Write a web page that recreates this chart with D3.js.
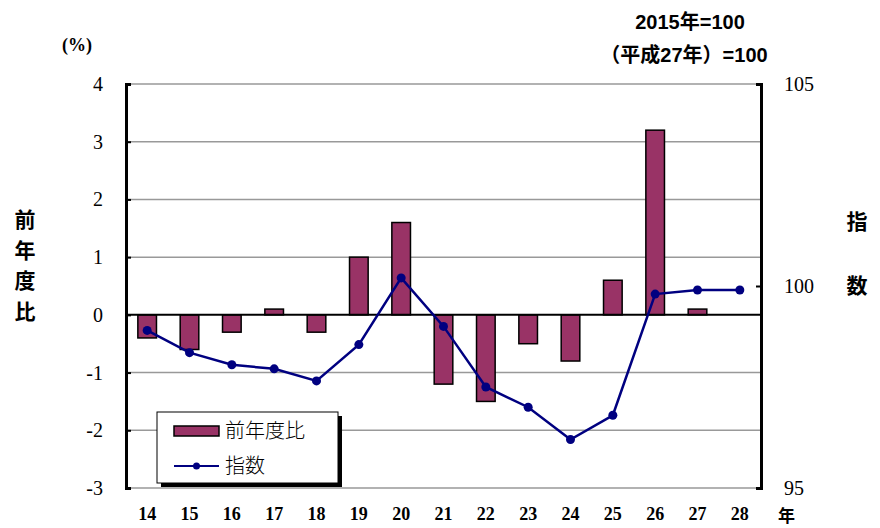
<!DOCTYPE html>
<html>
<head>
<meta charset="utf-8">
<script src="https://cdn.jsdelivr.net/npm/d3@7"></script>
<style>
  body { margin: 0; background: #fff; }
  svg { display: block; }
</style>
</head>
<body>
<div id="chart"></div>
<script>
const years = ["14", "15", "16", "17", "18", "19", "20", "21", "22", "23", "24", "25", "26", "27", "28"];
const changePct = [-0.4, -0.6, -0.3, 0.1, -0.3, 1.0, 1.6, -1.2, -1.5, -0.5, -0.8, 0.6, 3.2, 0.1, 0];
const indexVals = [98.9, 98.35, 98.05, 97.95, 97.65, 98.55, 100.2, 99.0, 97.5, 97.0, 96.2, 96.8, 99.8, 99.9, 99.9];
const leftTicks = [-3, -2, -1, 0, 1, 2, 3, 4];
const rightTicks = [95, 100, 105];

const width = 880, height = 528;
const margin = { top: 84, right: 119, bottom: 40, left: 126 };
const serif = "'Liberation Serif', 'Noto Sans CJK JP', serif";
const cjk = "'Noto Sans CJK JP', sans-serif";
const sans = "'Liberation Sans', 'Noto Sans CJK JP', sans-serif";

const svg = d3.select("#chart").append("svg")
  .attr("width", width)
  .attr("height", height);

const x = d3.scaleBand()
  .domain(years)
  .range([margin.left, width - margin.right])
  .paddingInner(0.56)
  .paddingOuter(0.28);

const yL = d3.scaleLinear().domain([-3, 4]).range([height - margin.bottom, margin.top]);
const yR = d3.scaleLinear().domain([95, 105]).range([height - margin.bottom, margin.top]);

// gridlines
svg.append("g")
  .selectAll("line")
  .data(leftTicks.filter(d => d !== 0))
  .join("line")
  .attr("x1", margin.left)
  .attr("x2", width - margin.right)
  .attr("y1", d => yL(d))
  .attr("y2", d => yL(d))
  .attr("stroke", "#999")
  .attr("stroke-width", 1.5);

// bars
svg.append("g")
  .selectAll("rect")
  .data(changePct.map((v, i) => ({ year: years[i], v })).filter(d => d.v !== 0))
  .join("rect")
  .attr("x", d => x(d.year))
  .attr("width", x.bandwidth())
  .attr("y", d => yL(Math.max(0, d.v)))
  .attr("height", d => Math.abs(yL(d.v) - yL(0)))
  .attr("fill", "#993366")
  .attr("stroke", "#000")
  .attr("stroke-width", 1.5);

// zero line
svg.append("line")
  .attr("x1", margin.left)
  .attr("x2", width - margin.right)
  .attr("y1", yL(0))
  .attr("y2", yL(0))
  .attr("stroke", "#000")
  .attr("stroke-width", 2);

// axes
const leftAxis = svg.append("g")
  .attr("transform", `translate(${margin.left},0)`)
  .call(d3.axisRight(yL).tickValues(leftTicks).tickSize(5).tickFormat(""));
leftAxis.select(".domain").attr("stroke-width", 3);
leftAxis.selectAll(".tick line").attr("stroke-width", 2);

const rightAxis = svg.append("g")
  .attr("transform", `translate(${width - margin.right},0)`)
  .call(d3.axisLeft(yR).tickValues(rightTicks).tickSize(5).tickFormat(""));
rightAxis.select(".domain").attr("stroke-width", 3);
rightAxis.selectAll(".tick line").attr("stroke-width", 2);

// left tick labels
svg.append("g")
  .selectAll("text")
  .data(leftTicks)
  .join("text")
  .attr("x", 103)
  .attr("y", d => yL(d))
  .attr("dy", "0.35em")
  .attr("text-anchor", "end")
  .attr("font-family", serif)
  .attr("font-size", 20)
  .text(d => d);

// right tick labels
svg.append("g")
  .selectAll("text")
  .data(rightTicks)
  .join("text")
  .attr("x", 784)
  .attr("y", d => yR(d))
  .attr("dy", "0.35em")
  .attr("font-family", serif)
  .attr("font-size", 20)
  .text(d => d);

// x labels
svg.append("g")
  .selectAll("text")
  .data(years)
  .join("text")
  .attr("x", d => x(d) + x.bandwidth() / 2)
  .attr("y", 514)
  .attr("dy", "0.35em")
  .attr("text-anchor", "middle")
  .attr("font-family", serif)
  .attr("font-weight", "bold")
  .attr("font-size", 18)
  .text(d => d);

svg.append("text")
  .attr("x", 778)
  .attr("y", 522)
  .attr("font-family", cjk)
  .attr("font-weight", "bold")
  .attr("font-size", 17)
  .text("年");

// index line
const pts = indexVals.map((v, i) => ({ year: years[i], v }));
const line = d3.line()
  .x(d => x(d.year) + x.bandwidth() / 2)
  .y(d => yR(d.v));

svg.append("path")
  .datum(pts)
  .attr("d", line)
  .attr("fill", "none")
  .attr("stroke", "#000080")
  .attr("stroke-width", 2.5);

svg.append("g")
  .selectAll("circle")
  .data(pts)
  .join("circle")
  .attr("cx", d => x(d.year) + x.bandwidth() / 2)
  .attr("cy", d => yR(d.v))
  .attr("r", 4.5)
  .attr("fill", "#000080");

// axis titles
svg.append("text")
  .attr("x", 62)
  .attr("y", 45)
  .attr("dy", "0.35em")
  .attr("font-family", serif)
  .attr("font-weight", "bold")
  .attr("font-size", 18)
  .text("(%)");

svg.append("g")
  .selectAll("text")
  .data(["前", "年", "度", "比"])
  .join("text")
  .attr("x", 25)
  .attr("y", (d, i) => 220 + i * 30.5)
  .attr("dy", "0.35em")
  .attr("text-anchor", "middle")
  .attr("font-family", cjk)
  .attr("font-weight", "bold")
  .attr("font-size", 21)
  .text(d => d);

svg.append("g")
  .selectAll("text")
  .data(["指", "数"])
  .join("text")
  .attr("x", 857)
  .attr("y", (d, i) => 222 + i * 64)
  .attr("dy", "0.35em")
  .attr("text-anchor", "middle")
  .attr("font-family", cjk)
  .attr("font-weight", "bold")
  .attr("font-size", 21)
  .text(d => d);

svg.append("text")
  .attr("x", 690)
  .attr("y", 22)
  .attr("dy", "0.35em")
  .attr("text-anchor", "middle")
  .attr("font-family", sans)
  .attr("font-weight", "bold")
  .attr("font-size", 20)
  .text("2015年=100");

svg.append("text")
  .attr("x", 684)
  .attr("y", 55)
  .attr("dy", "0.35em")
  .attr("text-anchor", "middle")
  .attr("font-family", sans)
  .attr("font-weight", "bold")
  .attr("font-size", 20)
  .text("（平成27年）=100");

// legend
const lg = svg.append("g").attr("transform", "translate(157,412)");
lg.append("rect").attr("x", 4).attr("y", 4).attr("width", 181).attr("height", 71).attr("fill", "#000");
lg.append("rect").attr("x", 0).attr("y", 0).attr("width", 181).attr("height", 71)
  .attr("fill", "#fff").attr("stroke", "#000").attr("stroke-width", 1);
lg.append("rect").attr("x", 17).attr("y", 14).attr("width", 45).attr("height", 10)
  .attr("fill", "#993366").attr("stroke", "#000").attr("stroke-width", 1.5);
lg.append("text").attr("x", 68).attr("y", 19).attr("dy", "0.35em")
  .attr("font-family", cjk).attr("font-size", 20).attr("font-weight", 300).text("前年度比");
lg.append("line").attr("x1", 17).attr("x2", 62).attr("y1", 54).attr("y2", 54)
  .attr("stroke", "#000080").attr("stroke-width", 2);
lg.append("circle").attr("cx", 39.5).attr("cy", 54).attr("r", 3.5).attr("fill", "#000080");
lg.append("text").attr("x", 68).attr("y", 54).attr("dy", "0.35em")
  .attr("font-family", cjk).attr("font-size", 20).attr("font-weight", 300).text("指数");
</script>
</body>
</html>
